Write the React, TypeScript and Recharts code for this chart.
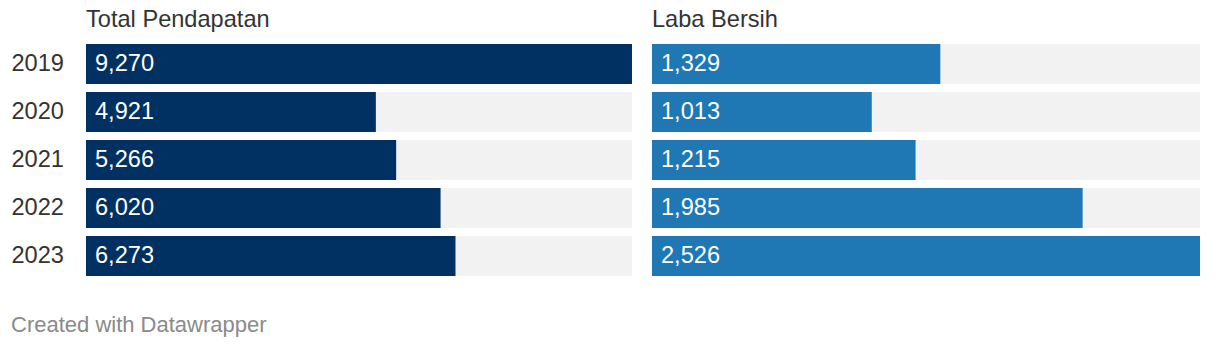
import React from 'react';
import { BarChart, Bar, XAxis, YAxis, LabelList } from 'recharts';

const years = ['2019', '2020', '2021', '2022', '2023'];
const pendapatan = [9270, 4921, 5266, 6020, 6273];
const laba = [1329, 1013, 1215, 1985, 2526];

const titles = ['Total Pendapatan', 'Laba Bersih'];
const footer = 'Created with Datawrapper';

const FONT = '"Liberation Sans", Arial, Helvetica, sans-serif';
const FS = 23.6;

const leftData = years.map((y, i) => ({ year: y, value: pendapatan[i] }));
const rightData = years.map((y, i) => ({ year: y, value: laba[i] }));

const fmt = (v: any) => Number(v).toLocaleString('en-US');

export default function App() {
  return (
    <div style={{ position: 'absolute', left: 0, top: 0, width: 1220, height: 348, background: '#fff', fontFamily: FONT }}>
      <div style={{ position: 'absolute', left: 86, top: 6, fontSize: FS, color: '#333', lineHeight: 'normal', whiteSpace: 'nowrap' }}>{titles[0]}</div>
      <div style={{ position: 'absolute', left: 652, top: 6, fontSize: FS, color: '#333', lineHeight: 'normal', whiteSpace: 'nowrap' }}>{titles[1]}</div>
      <div style={{ position: 'absolute', left: 0, top: 0 }}>
        <BarChart width={640} height={300} data={leftData} layout="vertical" margin={{ top: 40, right: 8, bottom: 20, left: 0 }}>
          <XAxis type="number" domain={[0, 'dataMax']} hide />
          <YAxis
            type="category"
            dataKey="year"
            width={86}
            axisLine={false}
            tickLine={false}
            tickSize={0}
            tickMargin={22}
            tick={{ fontSize: FS, fill: '#333', fontFamily: FONT, dy: -1 }}
          />
          <Bar dataKey="value" fill="#003162" barSize={40} background={{ fill: '#f2f2f2' }} isAnimationActive={false}>
            <LabelList dataKey="value" position="insideLeft" offset={9} fill="#fff" fontSize={FS} fontFamily={FONT} formatter={fmt} dy={-1} />
          </Bar>
        </BarChart>
      </div>
      <div style={{ position: 'absolute', left: 652, top: 0 }}>
        <BarChart width={568} height={300} data={rightData} layout="vertical" margin={{ top: 40, right: 20, bottom: 20, left: 0 }}>
          <XAxis type="number" domain={[0, 'dataMax']} hide />
          <YAxis type="category" dataKey="year" hide width={0} />
          <Bar dataKey="value" fill="#1f77b4" barSize={40} background={{ fill: '#f2f2f2' }} isAnimationActive={false}>
            <LabelList dataKey="value" position="insideLeft" offset={9} fill="#fff" fontSize={FS} fontFamily={FONT} formatter={fmt} dy={-1} />
          </Bar>
        </BarChart>
      </div>
      <div style={{ position: 'absolute', left: 11, top: 312, fontSize: 22, color: '#8a8a8a', lineHeight: 'normal', whiteSpace: 'nowrap' }}>{footer}</div>
    </div>
  );
}
